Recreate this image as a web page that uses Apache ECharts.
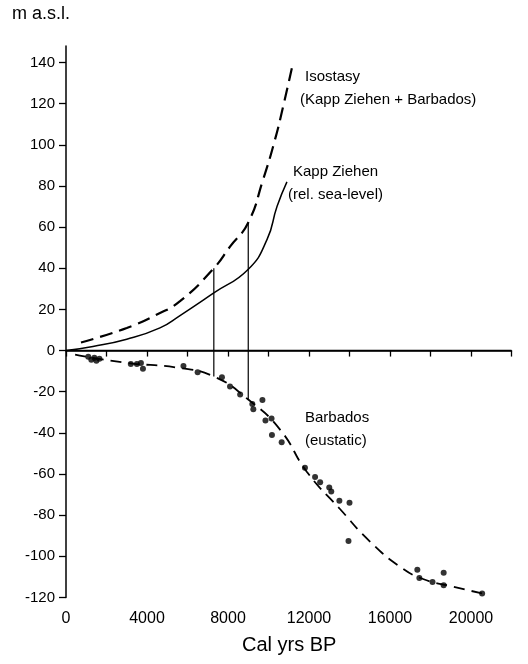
<!DOCTYPE html>
<html>
<head>
<meta charset="utf-8">
<script src="https://cdn.jsdelivr.net/npm/echarts@6/dist/echarts.min.js"></script>
<style>
  html, body { margin: 0; padding: 0; background: #fff; }
  #chart { width: 528px; height: 664px; }
</style>
</head>
<body>
<div id="chart"></div>
<script>
// Isostasy curve (Kapp Ziehen + Barbados), m a.s.l. vs cal yrs BP
const isoYears  = [740, 3000, 4490, 5630, 7300, 8100, 8990, 9730, 10320, 10720, 11160];
const isoValues = [3.9, 11, 17.5, 24, 40, 50.5, 62, 83, 102.5, 118.5, 137.5];

// Kapp Ziehen relative sea-level curve
const kzYears  = [0, 1330, 3000, 4640, 5630, 7300, 8990, 9930, 10420, 10910];
const kzValues = [0, 2, 5.5, 11, 17, 28, 39.4, 54, 70, 82];

// Barbados eustatic curve (fitted)
const barbYears  = [450, 3000, 5480, 7300, 9000, 10570, 11900, 13530, 15010, 16490, 17630, 19110, 20540];
const barbValues = [-2, -6, -8.3, -12.6, -23.8, -38.4, -59, -77, -92.8, -105, -111, -114.7, -118];

// Barbados coral dates
const coralYears  = [1100, 1250, 1400, 1500, 1650, 3200, 3500, 3700, 3800, 5800, 6500, 7700, 8100, 8600,
                     9200, 9250, 9700, 9850, 10150, 10170, 10650, 11800, 12300, 12550, 13000, 13100,
                     13500, 14000, 13950, 17350, 17450, 18100, 18650, 18650, 20550];
const coralValues = [-3, -4.5, -3.5, -5, -4, -6.5, -6.5, -6, -8.8, -7.5, -10.5, -13, -17.5, -21.3,
                     -26, -28.5, -24, -34, -33, -41, -44.5, -57, -61.5, -64, -66.5, -68.5,
                     -73, -74, -92.5, -106.5, -110.5, -112.5, -108, -114, -118];

// Vertical connectors: isostasy = Kapp Ziehen minus Barbados
const connYears  = [7300, 9000];
const connTop    = [40, 62];
const connBottom = [-12.6, -23.8];

// Axis ticks and labels
const yTicks = [-120, -100, -80, -60, -40, -20, 0, 20, 40, 60, 80, 100, 120, 140];
const xTicks = [0, 2000, 4000, 6000, 8000, 10000, 12000, 14000, 16000, 18000, 20000, 22000];
const xLabels = [0, 4000, 8000, 12000, 16000, 20000];

const zip = (xs, ys) => xs.map((x, i) => [x, ys[i]]);
const FONT = "'Liberation Sans', Arial, Helvetica, sans-serif";
const INK = '#000';

const connSeries = connYears.map((yr, i) => ({
  type: 'line',
  data: [[yr, connBottom[i]], [yr, connTop[i]]],
  symbol: 'none',
  lineStyle: { color: INK, width: 1.2 },
  silent: true,
  z: 2
}));

const chart = echarts.init(document.getElementById('chart'), null, { renderer: 'canvas' });
chart.setOption({
  backgroundColor: '#fff',
  animation: false,
  grid: { left: 66, right: 16.5, top: 46, bottom: 66.5, containLabel: false },
  xAxis: {
    type: 'value', min: 0, max: 22000, interval: 2000,
    axisLine: { lineStyle: { color: INK, width: 1.5 } },
    axisTick: { customValues: xTicks, length: 6, lineStyle: { color: INK, width: 1.3 } },
    axisLabel: {
      customValues: xLabels, margin: 13, color: INK, fontSize: 16, fontFamily: FONT,
      formatter: v => String(v)
    },
    splitLine: { show: false }
  },
  yAxis: {
    type: 'value', min: -120, max: 148, interval: 20,
    axisLine: { show: true, lineStyle: { color: INK, width: 1.5 } },
    axisTick: { show: true, customValues: yTicks, length: 7, lineStyle: { color: INK, width: 1.3 } },
    axisLabel: {
      customValues: yTicks, margin: 11, color: INK, fontSize: 15, fontFamily: FONT,
      formatter: v => String(v)
    },
    splitLine: { show: false }
  },
  series: [
    {
      name: 'Isostasy', type: 'line', data: zip(isoYears, isoValues),
      symbol: 'none', smooth: 0.5,
      lineStyle: { color: INK, width: 2.2, type: [13, 7] }, z: 3
    },
    {
      name: 'Kapp Ziehen', type: 'line', data: zip(kzYears, kzValues),
      symbol: 'none', smooth: 0.5,
      lineStyle: { color: INK, width: 1.5 }, z: 3,
      markLine: {
        silent: true, symbol: 'none', label: { show: false },
        lineStyle: { color: INK, width: 1.3, type: 'solid' },
        data: [{ yAxis: 0 }]
      }
    },
    {
      name: 'Barbados', type: 'line', data: zip(barbYears, barbValues),
      symbol: 'none', smooth: 0.5,
      lineStyle: { color: INK, width: 1.8, type: [11, 7] }, z: 3
    },
    {
      name: 'Coral dates', type: 'scatter', data: zip(coralYears, coralValues),
      symbol: 'circle', symbolSize: 6,
      itemStyle: { color: INK }, z: 4
    },
    ...connSeries
  ],
  graphic: [
    { type: 'text', left: 12, top: 5, style: { text: 'm a.s.l.', font: '18px ' + FONT, fill: INK } },
    { type: 'text', left: 242, top: 635, style: { text: 'Cal yrs BP', font: '20px ' + FONT, fill: INK } },
    { type: 'text', left: 305, top: 69, style: { text: 'Isostasy', font: '15px ' + FONT, fill: INK } },
    { type: 'text', left: 300, top: 92, style: { text: '(Kapp Ziehen + Barbados)', font: '15px ' + FONT, fill: INK } },
    { type: 'text', left: 293, top: 164, style: { text: 'Kapp Ziehen', font: '15px ' + FONT, fill: INK } },
    { type: 'text', left: 288, top: 187, style: { text: '(rel. sea-level)', font: '15px ' + FONT, fill: INK } },
    { type: 'text', left: 305, top: 410, style: { text: 'Barbados', font: '15px ' + FONT, fill: INK } },
    { type: 'text', left: 305, top: 433, style: { text: '(eustatic)', font: '15px ' + FONT, fill: INK } }
  ]
});
</script>
</body>
</html>
